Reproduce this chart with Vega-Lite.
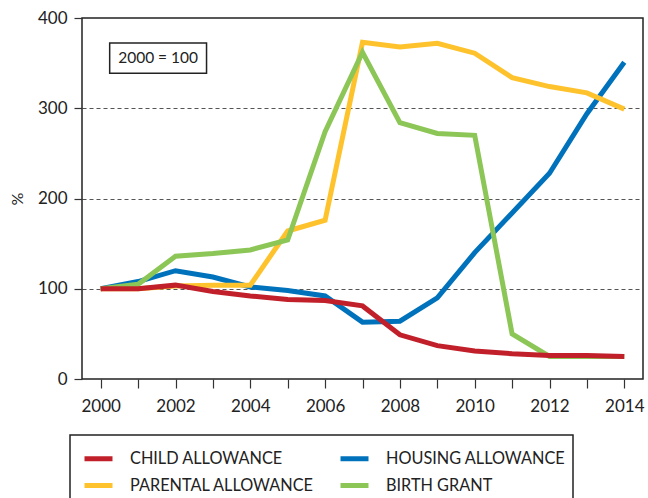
{
  "$schema": "https://vega.github.io/schema/vega-lite/v6.json",
  "width": 561,
  "height": 361,
  "autosize": {"type": "none"},
  "padding": {"left": 82, "top": 18, "right": 5, "bottom": 119},
  "background": "white",
  "config": {
    "font": "Lato",
    "view": {"stroke": "#222", "strokeWidth": 1.5},
    "axis": {"labelColor": "#222", "titleColor": "#222", "tickColor": "#333", "tickWidth": 1.2, "domain": false},
    "legend": {"labelColor": "#222"}
  },
  "datasets": {
    "series": [
      {"year": 2000, "series": "HOUSING ALLOWANCE", "value": 100},
      {"year": 2001, "series": "HOUSING ALLOWANCE", "value": 108},
      {"year": 2002, "series": "HOUSING ALLOWANCE", "value": 120},
      {"year": 2003, "series": "HOUSING ALLOWANCE", "value": 113},
      {"year": 2004, "series": "HOUSING ALLOWANCE", "value": 102},
      {"year": 2005, "series": "HOUSING ALLOWANCE", "value": 98},
      {"year": 2006, "series": "HOUSING ALLOWANCE", "value": 92},
      {"year": 2007, "series": "HOUSING ALLOWANCE", "value": 63},
      {"year": 2008, "series": "HOUSING ALLOWANCE", "value": 64},
      {"year": 2009, "series": "HOUSING ALLOWANCE", "value": 90},
      {"year": 2010, "series": "HOUSING ALLOWANCE", "value": 140},
      {"year": 2011, "series": "HOUSING ALLOWANCE", "value": 184},
      {"year": 2012, "series": "HOUSING ALLOWANCE", "value": 228},
      {"year": 2013, "series": "HOUSING ALLOWANCE", "value": 294},
      {"year": 2014, "series": "HOUSING ALLOWANCE", "value": 351},
      {"year": 2000, "series": "PARENTAL ALLOWANCE", "value": 100},
      {"year": 2001, "series": "PARENTAL ALLOWANCE", "value": 100},
      {"year": 2002, "series": "PARENTAL ALLOWANCE", "value": 103},
      {"year": 2003, "series": "PARENTAL ALLOWANCE", "value": 104},
      {"year": 2004, "series": "PARENTAL ALLOWANCE", "value": 104},
      {"year": 2005, "series": "PARENTAL ALLOWANCE", "value": 164},
      {"year": 2006, "series": "PARENTAL ALLOWANCE", "value": 176},
      {"year": 2007, "series": "PARENTAL ALLOWANCE", "value": 373},
      {"year": 2008, "series": "PARENTAL ALLOWANCE", "value": 368},
      {"year": 2009, "series": "PARENTAL ALLOWANCE", "value": 372},
      {"year": 2010, "series": "PARENTAL ALLOWANCE", "value": 361},
      {"year": 2011, "series": "PARENTAL ALLOWANCE", "value": 334},
      {"year": 2012, "series": "PARENTAL ALLOWANCE", "value": 324},
      {"year": 2013, "series": "PARENTAL ALLOWANCE", "value": 317},
      {"year": 2014, "series": "PARENTAL ALLOWANCE", "value": 299},
      {"year": 2000, "series": "BIRTH GRANT", "value": 100},
      {"year": 2001, "series": "BIRTH GRANT", "value": 105},
      {"year": 2002, "series": "BIRTH GRANT", "value": 136},
      {"year": 2003, "series": "BIRTH GRANT", "value": 139},
      {"year": 2004, "series": "BIRTH GRANT", "value": 143},
      {"year": 2005, "series": "BIRTH GRANT", "value": 154},
      {"year": 2006, "series": "BIRTH GRANT", "value": 274},
      {"year": 2007, "series": "BIRTH GRANT", "value": 362},
      {"year": 2008, "series": "BIRTH GRANT", "value": 284},
      {"year": 2009, "series": "BIRTH GRANT", "value": 272},
      {"year": 2010, "series": "BIRTH GRANT", "value": 270},
      {"year": 2011, "series": "BIRTH GRANT", "value": 50},
      {"year": 2012, "series": "BIRTH GRANT", "value": 25},
      {"year": 2013, "series": "BIRTH GRANT", "value": 25},
      {"year": 2014, "series": "BIRTH GRANT", "value": 25},
      {"year": 2000, "series": "CHILD ALLOWANCE", "value": 100},
      {"year": 2001, "series": "CHILD ALLOWANCE", "value": 100},
      {"year": 2002, "series": "CHILD ALLOWANCE", "value": 104},
      {"year": 2003, "series": "CHILD ALLOWANCE", "value": 97},
      {"year": 2004, "series": "CHILD ALLOWANCE", "value": 92},
      {"year": 2005, "series": "CHILD ALLOWANCE", "value": 88},
      {"year": 2006, "series": "CHILD ALLOWANCE", "value": 87},
      {"year": 2007, "series": "CHILD ALLOWANCE", "value": 81},
      {"year": 2008, "series": "CHILD ALLOWANCE", "value": 49},
      {"year": 2009, "series": "CHILD ALLOWANCE", "value": 37},
      {"year": 2010, "series": "CHILD ALLOWANCE", "value": 31},
      {"year": 2011, "series": "CHILD ALLOWANCE", "value": 28},
      {"year": 2012, "series": "CHILD ALLOWANCE", "value": 26},
      {"year": 2013, "series": "CHILD ALLOWANCE", "value": 26},
      {"year": 2014, "series": "CHILD ALLOWANCE", "value": 25}
    ],
    "note": [
      {"label": "2000 = 100"}
    ]
  },
  "layer": [
    {
      "data": {"name": "series"},
      "mark": {"type": "line", "strokeWidth": 5, "strokeJoin": "miter", "strokeCap": "butt"},
      "encoding": {
        "x": {
          "field": "year", "type": "quantitative",
          "scale": {"domain": [1999.5, 2014.5], "nice": false, "zero": false},
          "axis": {
            "title": null,
            "values": [2000, 2001, 2002, 2003, 2004, 2005, 2006, 2007, 2008, 2009, 2010, 2011, 2012, 2013, 2014],
            "format": "d",
            "labelExpr": "datum.value % 2 == 0 ? datum.label : ''",
            "grid": false,
            "tickSize": 9,
            "labelPadding": 10,
            "labelFontSize": 17,
            "labelFlush": false,
            "labelOverlap": false
          }
        },
        "y": {
          "field": "value", "type": "quantitative",
          "scale": {"domain": [0, 400], "nice": false},
          "axis": {
            "title": "%",
            "titleFontSize": 16,
            "titleFontWeight": "normal",
            "titlePadding": 12,
            "values": [0, 100, 200, 300, 400],
            "tickSize": 8,
            "labelPadding": 7,
            "labelFontSize": 17,
            "grid": true,
            "gridColor": "#555",
            "gridDash": [4, 3],
            "gridWidth": 1,
            "gridOpacity": {"condition": {"test": "datum.value == 0 || datum.value == 400", "value": 0}, "value": 1}
          }
        },
        "color": {
          "field": "series", "type": "nominal",
          "scale": {
            "domain": ["CHILD ALLOWANCE", "HOUSING ALLOWANCE", "PARENTAL ALLOWANCE", "BIRTH GRANT"],
            "range": ["#c1202a", "#0072bc", "#fec22d", "#8cc657"]
          },
          "legend": {
            "title": null,
            "orient": "none",
            "legendX": -12,
            "legendY": 417,
            "direction": "horizontal",
            "columns": 2,
            "strokeColor": "#222",
            "padding": 7,
            "symbolOffset": 5,
            "symbolType": "stroke",
            "symbolSize": 784,
            "symbolStrokeWidth": 5,
            "labelFontSize": 16.3,
            "labelOffset": 15,
            "labelLimit": 400,
            "columnPadding": 16,
            "rowPadding": -1,
            "encode": {"legend": {"update": {"strokeWidth": {"value": 1.5}}}}
          }
        }
      }
    },
    {
      "data": {"name": "note"},
      "mark": {"type": "rect", "fill": "white", "stroke": "#222", "strokeWidth": 1.5},
      "encoding": {
        "x": {"datum": 2000.24},
        "x2": {"datum": 2002.83},
        "y": {"datum": 372.3},
        "y2": {"datum": 338.8}
      }
    },
    {
      "data": {"name": "note"},
      "mark": {"type": "text", "fontSize": 15.5, "fill": "#222", "align": "center", "baseline": "middle"},
      "encoding": {
        "x": {"datum": 2001.535},
        "y": {"datum": 355.5},
        "text": {"field": "label"}
      }
    }
  ]
}
